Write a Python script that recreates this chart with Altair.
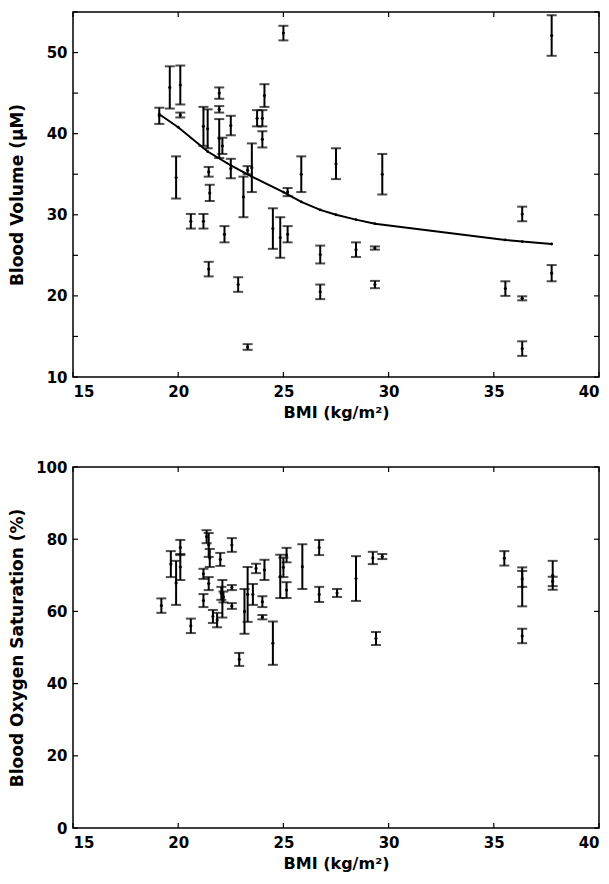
import altair as alt
import pandas as pd

# ---------------- data ----------------
bv_bmi = [19.1, 19.6, 19.9, 20.1, 20.1, 20.6, 21.2, 21.2, 21.4, 21.45, 21.5, 21.45,
          21.95, 21.95, 21.95, 22.1, 22.2, 22.5, 22.5, 22.85, 23.1, 23.3, 23.3, 23.5,
          23.75, 24.0, 24.0, 24.1, 24.5, 24.85, 25.0, 25.2, 25.2, 25.85, 26.75, 26.75,
          27.5, 28.45, 29.35, 29.35, 29.7, 35.55, 36.35, 36.35, 36.35, 37.75, 37.75]
bv_val = [42.2, 45.7, 34.6, 46.0, 42.3, 29.2, 29.2, 40.9, 40.6, 35.3, 32.7, 23.3,
          45.0, 43.0, 39.4, 38.5, 27.6, 41.0, 35.7, 21.4, 32.2, 35.5, 13.7, 35.8,
          41.9, 41.9, 39.3, 44.7, 28.3, 27.2, 52.4, 32.8, 27.6, 35.0, 25.1, 20.5,
          36.3, 25.7, 25.9, 21.4, 35.0, 20.9, 30.1, 19.7, 13.5, 52.1, 22.8]
bv_err = [1.0, 2.6, 2.6, 2.4, 0.3, 0.9, 0.9, 2.4, 2.4, 0.6, 1.0, 0.9,
          0.7, 0.4, 2.4, 1.0, 1.0, 1.2, 1.2, 0.9, 2.5, 0.5, 0.35, 3.0,
          1.0, 1.0, 1.0, 1.4, 2.5, 2.5, 0.9, 0.5, 1.0, 2.2, 1.1, 0.9,
          1.9, 0.9, 0.2, 0.45, 2.5, 0.9, 0.9, 0.25, 0.9, 2.5, 1.0]

fit_bmi = [19.1, 20.0, 21.4, 22.5, 23.5, 25.0, 25.85, 26.75, 27.5, 28.45, 29.35, 35.55, 36.35, 37.75]
fit_bv = [42.4, 40.8, 37.8, 36.1, 34.7, 32.8, 31.6, 30.6, 30.0, 29.4, 28.9, 26.9, 26.7, 26.4]

so_bmi = [19.2, 19.65, 19.9, 20.1, 20.1, 20.6, 21.2, 21.2, 21.35, 21.45, 21.45, 21.5,
          21.65, 21.85, 22.0, 22.1, 22.05, 22.15, 22.55, 22.55, 22.55, 22.9, 23.15, 23.3,
          23.55, 23.7, 24.0, 24.0, 24.1, 24.5, 24.85, 25.0, 25.15, 25.15, 25.9, 26.7,
          26.7, 27.55, 28.45, 29.25, 29.7, 29.4, 35.5, 36.35, 36.35, 36.35, 37.8, 37.8]
so_val = [61.6, 73.1, 67.9, 77.7, 72.3, 56.0, 70.4, 63.0, 80.7, 78.4, 67.7, 74.8,
          58.6, 57.6, 74.4, 63.5, 65.0, 64.0, 78.4, 66.6, 61.5, 46.7, 60.0, 64.7,
          64.7, 71.9, 62.7, 58.4, 71.5, 51.2, 69.7, 72.2, 75.6, 65.9, 72.4, 77.7,
          64.7, 65.1, 69.1, 74.8, 75.2, 52.5, 74.7, 66.8, 69.0, 53.2, 70.0, 68.3]
so_err = [2.0, 3.6, 6.1, 2.1, 3.6, 2.0, 1.4, 1.8, 1.8, 3.3, 1.8, 2.5,
          1.8, 2.0, 1.8, 5.2, 1.8, 1.5, 1.9, 0.7, 0.8, 1.8, 6.2, 7.6,
          2.9, 1.3, 1.5, 0.6, 2.8, 6.0, 6.0, 2.7, 2.0, 2.2, 6.2, 2.1,
          2.1, 1.1, 6.2, 1.7, 0.7, 1.8, 2.0, 5.4, 2.2, 2.0, 4.0, 1.3]

x_ticks = [15, 20, 25, 30, 35, 40]
bv_ticks = [10, 15, 20, 25, 30, 35, 40, 45, 50, 55]
bv_labels = [10, 20, 30, 40, 50]
so_ticks = [0, 20, 40, 60, 80, 100]

# ---------------- style ----------------
W = 526
H1 = 365
H2 = 361
FONT = "DejaVu Sans"
TICK = 5


def panel(bmi, val, err, ydom, ytick_vals, ylabel_vals, ytitle, h, fit=None):
    df = pd.DataFrame({
        "bmi": bmi,
        "val": val,
        "lo": [v - e for v, e in zip(val, err)],
        "hi": [v + e for v, e in zip(val, err)],
    })
    xs = alt.Scale(domain=[15, 40], nice=False, zero=False)
    ys = alt.Scale(domain=ydom, nice=False, zero=False)

    x_axis = alt.Axis(values=x_ticks, ticks=False, domain=False, grid=False,
                      title="BMI (kg/m²)", labelPadding=7, titlePadding=5,
                      titleFontSize=16, format="d")
    y_axis = alt.Axis(values=ylabel_vals, ticks=False, domain=False, grid=False,
                      title=ytitle, labelPadding=6, titleX=-47, titleY=h / 2,
                      titleAngle=270, titleBaseline="bottom", titleAlign="center",
                      titleFontSize=17, format="d")

    def X(f):
        return alt.X(f, scale=xs, axis=x_axis)

    def Y(f):
        return alt.Y(f, scale=ys, axis=y_axis)

    base = alt.Chart(df)
    bars = base.mark_rule(color="black", strokeWidth=2).encode(
        x=X("bmi:Q"), y=Y("lo:Q"), y2="hi:Q")
    cap_lo = base.mark_tick(orient="horizontal", size=10, thickness=2, color="black").encode(
        x=X("bmi:Q"), y=Y("lo:Q"))
    cap_hi = base.mark_tick(orient="horizontal", size=10, thickness=2, color="black").encode(
        x=X("bmi:Q"), y=Y("hi:Q"))
    dots = base.mark_circle(size=10, color="black", opacity=1).encode(
        x=X("bmi:Q"), y=Y("val:Q"))

    xt = alt.Chart(pd.DataFrame({"t": x_ticks}))
    yt = alt.Chart(pd.DataFrame({"t": ytick_vals}))
    tick_b = xt.mark_rule(color="black", strokeWidth=1.2).encode(
        x=X("t:Q"), y=alt.value(h), y2=alt.value(h - TICK))
    tick_t = xt.mark_rule(color="black", strokeWidth=1.2).encode(
        x=X("t:Q"), y=alt.value(0), y2=alt.value(TICK))
    tick_l = yt.mark_rule(color="black", strokeWidth=1.2).encode(
        y=Y("t:Q"), x=alt.value(0), x2=alt.value(TICK))
    tick_r = yt.mark_rule(color="black", strokeWidth=1.2).encode(
        y=Y("t:Q"), x=alt.value(W - TICK), x2=alt.value(W))

    layers = [bars, cap_lo, cap_hi, dots, tick_b, tick_t, tick_l, tick_r]
    if fit is not None:
        fdf = pd.DataFrame({"bmi": fit[0], "val": fit[1]})
        fc = alt.Chart(fdf)
        line = fc.mark_line(color="black", strokeWidth=2).encode(
            x=X("bmi:Q"), y=Y("val:Q"))
        fdots = fc.mark_circle(size=8, color="black", opacity=1).encode(
            x=X("bmi:Q"), y=Y("val:Q"))
        layers += [line, fdots]
    return alt.layer(*layers).properties(width=W, height=h)


top = panel(bv_bmi, bv_val, bv_err, [10, 55], bv_ticks, bv_labels,
            "Blood Volume (μM)", H1, fit=(fit_bmi, fit_bv))
bottom = panel(so_bmi, so_val, so_err, [0, 100], so_ticks, so_ticks,
               "Blood Oxygen Saturation (%)", H2)

chart = alt.vconcat(top, bottom, spacing=38).properties(
    padding={"left": 7, "top": 10, "right": 4, "bottom": 4},
    background="white",
).configure_view(
    stroke="black", strokeWidth=1.5
).configure_axis(
    labelFont=FONT, labelFontSize=15, labelFontWeight="bold", labelColor="black",
    titleFont=FONT, titleFontWeight="bold", titleColor="black",
)

chart.save("out.html", embed_options={"renderer": "svg", "actions": False})
